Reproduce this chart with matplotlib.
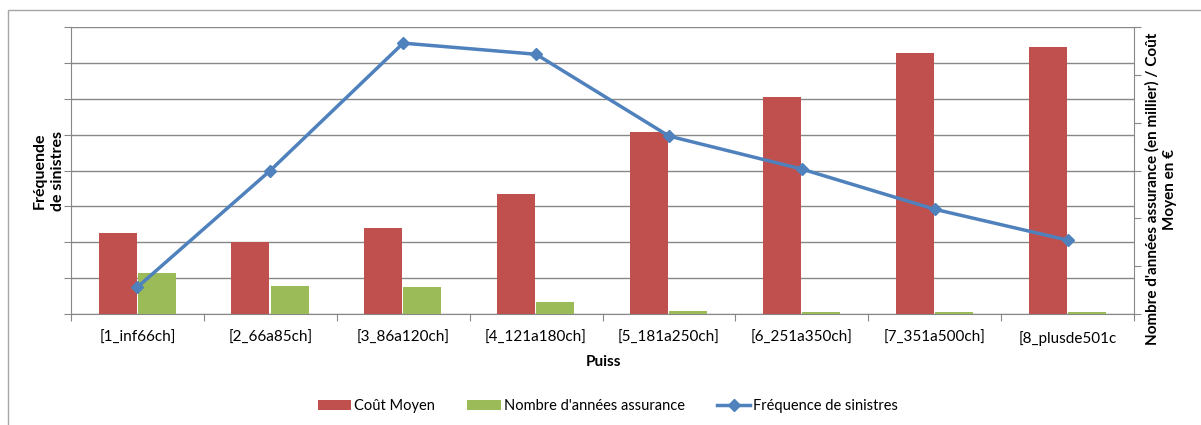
import matplotlib
matplotlib.use("Agg")
import matplotlib.pyplot as plt
from matplotlib.patches import Rectangle
import numpy as np

plt.rcParams['font.family'] = ['Lato', 'DejaVu Sans']

categories = ["[1_inf66ch]", "[2_66a85ch]", "[3_86a120ch]", "[4_121a180ch]",
              "[5_181a250ch]", "[6_251a350ch]", "[7_351a500ch]", "[8_plusde501c"]
cout_moyen = [1.69, 1.51, 1.80, 2.51, 3.81, 4.54, 5.46, 5.59]
nb_annees = [0.86, 0.59, 0.56, 0.25, 0.06, 0.04, 0.04, 0.04]
frequence = [0.75, 4.0, 7.55, 7.24, 4.96, 4.04, 2.92, 2.06]

RED = "#C0504D"
GREEN = "#9BBB59"
BLUE = "#4F81BD"
GRID = "#878787"

W, H = 1201, 425
fig = plt.figure(figsize=(W / 100, H / 100), dpi=100)

# chart border
fig.patches.append(Rectangle((8 / W, -0.1), 1.2, 1 - 10 / H + 0.1, transform=fig.transFigure,
                             fill=False, edgecolor="#a6a6a6", linewidth=1))

left, right, bottom, top = 71, 1134, 314, 27
rect = [left / W, 1 - bottom / H, (right - left) / W, (bottom - top) / H]
ax = fig.add_axes(rect)
ax2 = ax.twinx()
ax3 = ax.twinx()

x = np.arange(len(categories))
n = len(categories)

# left axis (frequency) with grid
ax.set_xlim(-0.5, n - 0.5)
ax.set_ylim(0, 8)
ax.set_yticks(np.arange(0, 9, 1))
ax.yaxis.grid(True, color=GRID, linewidth=1)
ax.set_axisbelow(True)
ax.tick_params(axis="y", direction="out", length=5, color=GRID, labelleft=False, labelright=False)
ax.set_xticks(np.arange(-0.5, n, 1))
ax.set_xticklabels([])
ax.set_xticks(x, minor=True)
ax.set_xticklabels(categories, minor=True, fontsize=11)
ax.tick_params(axis="x", which="major", direction="out", length=5, color=GRID)
ax.tick_params(axis="x", which="minor", length=0, pad=12)
for s in ["top", "right"]:
    ax.spines[s].set_visible(False)
for s in ["left", "bottom"]:
    ax.spines[s].set_color(GRID)

# bars on right axis
bw = 0.286
b1 = ax2.bar(x - 0.15, cout_moyen, width=bw, color=RED, label="Coût Moyen", zorder=2)
b2 = ax2.bar(x + 0.145, nb_annees, width=bw, color=GREEN, label="Nombre d'années assurance", zorder=2)
ax2.set_ylim(0, 6)
ax2.set_yticks(np.arange(0, 7, 1))
ax2.tick_params(axis="y", direction="out", length=5, color=GRID, labelright=False)
for s in ["top", "left", "bottom"]:
    ax2.spines[s].set_visible(False)
ax2.spines["right"].set_color(GRID)

# line on left scale
l1, = ax3.plot(x, frequence, color=BLUE, linewidth=2.5, marker="D", markersize=6,
               label="Fréquence de sinistres")
ax3.set_ylim(0, 8)
ax3.set_yticks([])
for s in ax3.spines.values():
    s.set_visible(False)

fig.text(49 / W, 1 - 171 / H, "Fréquende\nde sinistres", rotation=90, ha="center", va="center",
         fontsize=11.5, fontweight="bold", linespacing=1.4)
fig.text(1161 / W, 1 - 189 / H, "Nombre d'années assurance (en millier) / Coût\nMoyen en €",
         rotation=90, ha="center", va="center", fontsize=11, fontweight="bold", linespacing=1.35)
fig.text(603 / W, 1 - 362 / H, "Puiss", ha="center", va="center", fontsize=11, fontweight="bold")

fig.legend(handles=[b1, b2, l1], loc="center", bbox_to_anchor=(608 / W, 1 - 406 / H), ncol=3,
           frameon=False, fontsize=10.5, handlelength=2.3, handletextpad=0.2, columnspacing=2.2)

fig.savefig("out.png", dpi=100)
